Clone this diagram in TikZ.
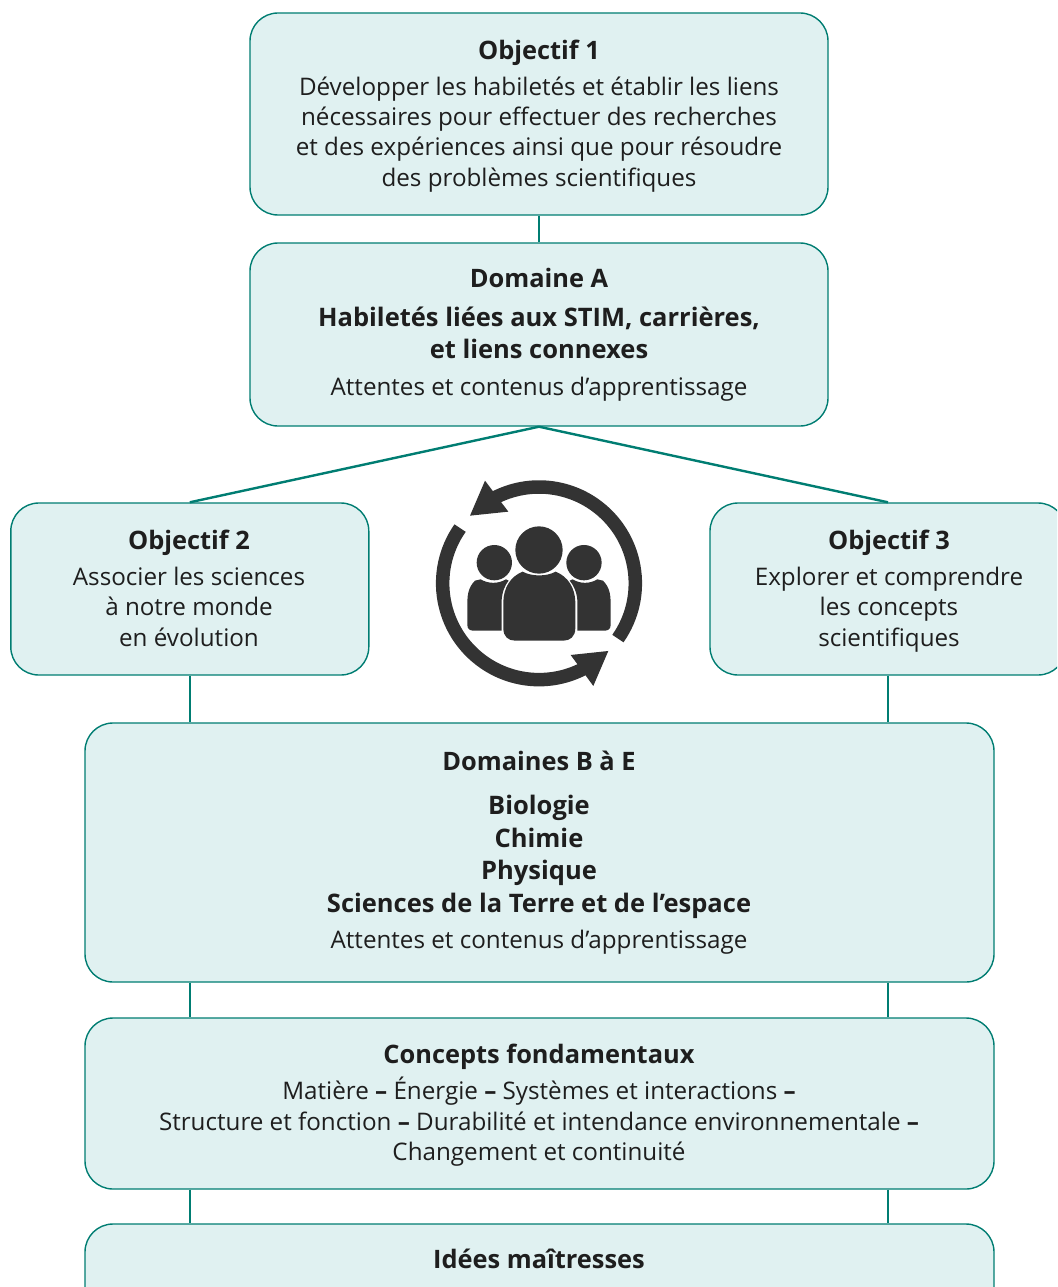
\documentclass[tikz,border=0pt]{standalone}
\usepackage{fontspec}
\setmainfont{Open Sans}
\definecolor{boxfill}{HTML}{E0F1F1}
\definecolor{boxline}{HTML}{007D72}
\definecolor{icon}{HTML}{333333}
\definecolor{ink}{HTML}{1E1E1E}
\newcommand{\bdash}{\textbf{–}}
\tikzset{
  panel/.style={draw=boxline,fill=boxfill,line width=1.4pt,rounded corners=28pt,minimum width=#1,inner sep=0pt},
  link/.style={draw=boxline,line width=2.4pt},
  body/.style={font=\fontsize{24.2}{30.2}\selectfont,text=ink,align=center,anchor=base,inner sep=0pt},
  head/.style={font=\fontsize{25.4}{30}\selectfont\bfseries,text=ink,align=center,anchor=base,inner sep=0pt},
  subj/.style={font=\fontsize{25.5}{32.5}\selectfont\bfseries,text=ink,align=center,anchor=base,inner sep=0pt},
}
\begin{document}
\begin{tikzpicture}[x=1pt,y=-1pt]
\useasboundingbox (0,0) rectangle (1057,1287);
\clip (0,0) rectangle (1057,1287);
% panels
\node[panel=578pt,minimum height=202pt] (o1) at (539,114) {};
\node[panel=578pt,minimum height=183pt] (da) at (539,334.5) {};
\node[panel=358pt,minimum height=172pt] (o2) at (189.8,589) {};
\node[panel=356pt,minimum height=172pt] (o3) at (888,589) {};
\node[panel=909pt,minimum height=259pt] (db) at (539.5,852.5) {};
\node[panel=909pt,minimum height=171pt] (cf) at (539.5,1103.5) {};
\node[panel=909pt,minimum height=106pt] (im) at (539.5,1277) {};
% connectors
\draw[link] (o1.south) -- (da.north);
\draw[link] (da.south) -- (o2.north);
\draw[link] (da.south) -- (o3.north);
\draw[link] (o2.south) -- (o2.south |- db.north);
\draw[link] (o3.south) -- (o3.south |- db.north);
\draw[link] (o2.south |- db.south) -- (o2.south |- cf.north);
\draw[link] (o3.south |- db.south) -- (o3.south |- cf.north);
\draw[link] (o2.south |- cf.south) -- (o2.south |- im.north);
\draw[link] (o3.south |- cf.south) -- (o3.south |- im.north);
% texts
\node[head] (t1) at (539,59.5) {Objectif 1};
\node[body] (t1b) at (539,186) {Développer les habiletés et établir les liens\\nécessaires pour effectuer des recherches\\et des expériences ainsi que pour résoudre\\des problèmes scientifiques};
\node[head] (t2) at (539,287.5) {Domaine A};
\node[subj] (t2b) at (539,358.5) {Habiletés liées aux STIM, carrières,\\et liens connexes};
\node[body] (t2c) at (539,395) {Attentes et contenus d’apprentissage};
\node[head] (t3) at (189,549) {Objectif 2};
\node[body] (t3b) at (189,646) {Associer les sciences\\à notre monde\\en évolution};
\node[head] (t4) at (889,549) {Objectif 3};
\node[body] (t4b) at (889,646) {Explorer et comprendre\\les concepts\\scientifiques};
\node[head] (t5) at (539,770) {Domaines B à E};
\node[subj] (t5b) at (539,912) {Biologie\\Chimie\\Physique\\Sciences de la Terre et de l’espace};
\node[body] (t5c) at (539,948) {Attentes et contenus d’apprentissage};
\node[head] (t6) at (539,1063) {Concepts fondamentaux};
\node[body] (t6b) at (539,1160.3) {Matière \bdash{} Énergie \bdash{} Systèmes et interactions \bdash\\Structure et fonction \bdash{} Durabilité et intendance environnementale \bdash\\Changement et continuité};
\node[head] (t7) at (539,1268) {Idées maîtresses};
% icon
\begin{scope}[shift={(420,460)},x=0.3333pt,y=-0.3333pt]
  \draw[icon,line width=13.5pt] (357,370) ++(35:289) arc[start angle=35,end angle=-117,radius=289];
  \draw[icon,line width=13.5pt] (357,370) ++(-145:289) arc[start angle=-145,end angle=-297,radius=289];
  \fill[icon] (195,62) -- (150,167) -- (265,155) -- cycle;
  \fill[icon] (565,573) -- (520,678) -- (452,585) -- cycle;
  % side people
  \fill[icon] (165,362) .. controls (142,385) and (142,410) .. (142,440) -- (142,495) .. controls (142,507) and (150,512) .. (160,512) -- (245,512) -- (245,420) .. controls (247,395) and (255,375) .. (266,362) -- (258,358) .. controls (235,372) and (205,372) .. (182,358) -- cycle;
  \fill[icon] (549,362) .. controls (572,385) and (572,410) .. (572,440) -- (572,495) .. controls (572,507) and (564,512) .. (554,512) -- (472,512) -- (472,420) .. controls (470,395) and (460,375) .. (449,362) -- (458,358) .. controls (480,372) and (510,372) .. (532,358) -- cycle;
  \fill[icon] (223,308) circle[radius=53];
  \fill[icon] (492,308) circle[radius=53];
  % centre person
  \fill[icon] (357,270) circle[radius=71];
  \fill[icon] (308,335) .. controls (335,350) and (380,350) .. (407,335) .. controls (445,350) and (465,385) .. (466,425) -- (466,505) .. controls (466,530) and (450,542) .. (430,542) -- (285,542) .. controls (265,542) and (250,530) .. (250,505) -- (250,425) .. controls (251,385) and (270,350) .. (308,335) -- cycle;
\end{scope}
\end{tikzpicture}
\end{document}
